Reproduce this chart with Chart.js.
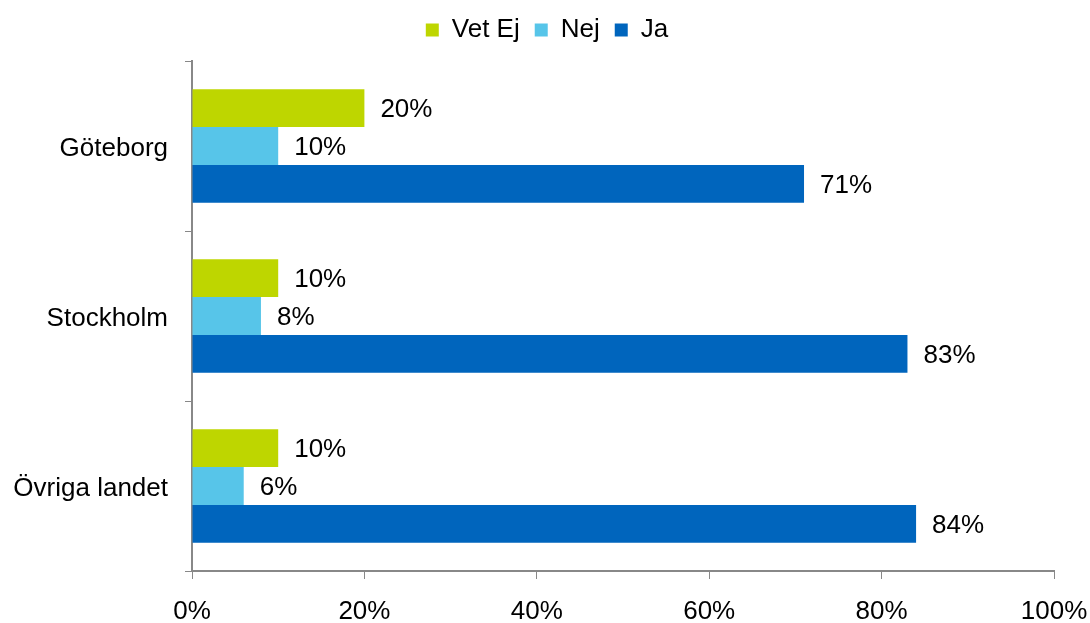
<!DOCTYPE html>
<html>
<head>
<meta charset="utf-8">
<script src="https://cdn.jsdelivr.net/npm/chart.js@4/dist/chart.umd.min.js"></script>
<style>
html,body{margin:0;padding:0;background:#fff;}
#wrap{width:1090px;height:623px;position:relative;}
</style>
</head>
<body>
<div id="wrap"><canvas id="c" width="1090" height="623"></canvas></div>
<script>
const categories = ['Göteborg', 'Stockholm', 'Övriga landet'];
const vetEj = [20, 10, 10];
const nej = [10, 8, 6];
const ja = [71, 83, 84];
const xTicks = [0, 20, 40, 60, 80, 100];

const FONT = "'Liberation Sans', Arial, sans-serif";
const FS = 26;

const valueLabels = {
  id: 'valueLabels',
  afterDatasetsDraw(chart) {
    const ctx = chart.ctx;
    ctx.save();
    ctx.font = FS + 'px ' + FONT;
    ctx.fillStyle = '#000';
    ctx.textAlign = 'left';
    ctx.textBaseline = 'middle';
    chart.data.datasets.forEach((ds, i) => {
      const meta = chart.getDatasetMeta(i);
      meta.data.forEach((el, j) => {
        ctx.fillText(ds.data[j] + '%', el.x + 16, el.y + 2);
      });
    });
    ctx.restore();
  }
};

const legendTweak = {
  id: 'legendTweak',
  beforeLayout(chart) {
    const lg = chart.legend;
    if (lg && !lg._patched) {
      const origFit = lg.fit;
      lg.fit = function () { origFit.call(this); this.height = 61; };
      const origDraw = lg.draw;
      lg.draw = function () {
        const ctx = this.ctx;
        ctx.save();
        ctx.translate(20, 2);
        origDraw.call(this);
        ctx.restore();
      };
      lg._patched = true;
    }
  }
};

new Chart(document.getElementById('c'), {
  type: 'bar',
  data: {
    labels: categories,
    datasets: [
      { label: 'Vet Ej', data: vetEj, backgroundColor: '#bed600' },
      { label: 'Nej', data: nej, backgroundColor: '#57c5e9' },
      { label: 'Ja', data: ja, backgroundColor: '#0065bd' }
    ]
  },
  options: {
    indexAxis: 'y',
    responsive: false,
    animation: false,
    devicePixelRatio: 1,
    categoryPercentage: 0.667,
    barPercentage: 1,
    layout: { padding: { left: 0, right: 36, top: 0, bottom: 0 } },
    plugins: {
      legend: {
        position: 'top',
        labels: {
          font: { family: FONT, size: FS },
          color: '#000',
          boxWidth: 13,
          boxHeight: 13,
          padding: 15
        }
      },
      tooltip: { enabled: false }
    },
    scales: {
      x: {
        min: 0,
        max: 100,
        afterBuildTicks(scale) { scale.ticks = xTicks.map(v => ({ value: v })); },
        afterFit(scale) { scale.height = 52; scale.paddingLeft = 0; scale.paddingRight = 0; },
        grid: { drawOnChartArea: false, drawTicks: true, tickLength: 8, color: '#888' },
        border: { color: '#888', width: 2 },
        ticks: {
          font: { family: FONT, size: FS },
          color: '#000',
          padding: 17,
          maxRotation: 0,
          callback: v => v + '%'
        }
      },
      y: {
        afterFit(scale) { scale.width = 192; scale.paddingTop = 0; scale.paddingBottom = 0; },
        grid: { drawOnChartArea: false, drawTicks: true, tickLength: 7, color: '#888', offset: true },
        border: { color: '#888', width: 2 },
        ticks: {
          font: { family: FONT, size: FS },
          color: '#000',
          padding: 17,
          labelOffset: 3
        }
      }
    }
  },
  plugins: [valueLabels, legendTweak]
});
</script>
</body>
</html>
